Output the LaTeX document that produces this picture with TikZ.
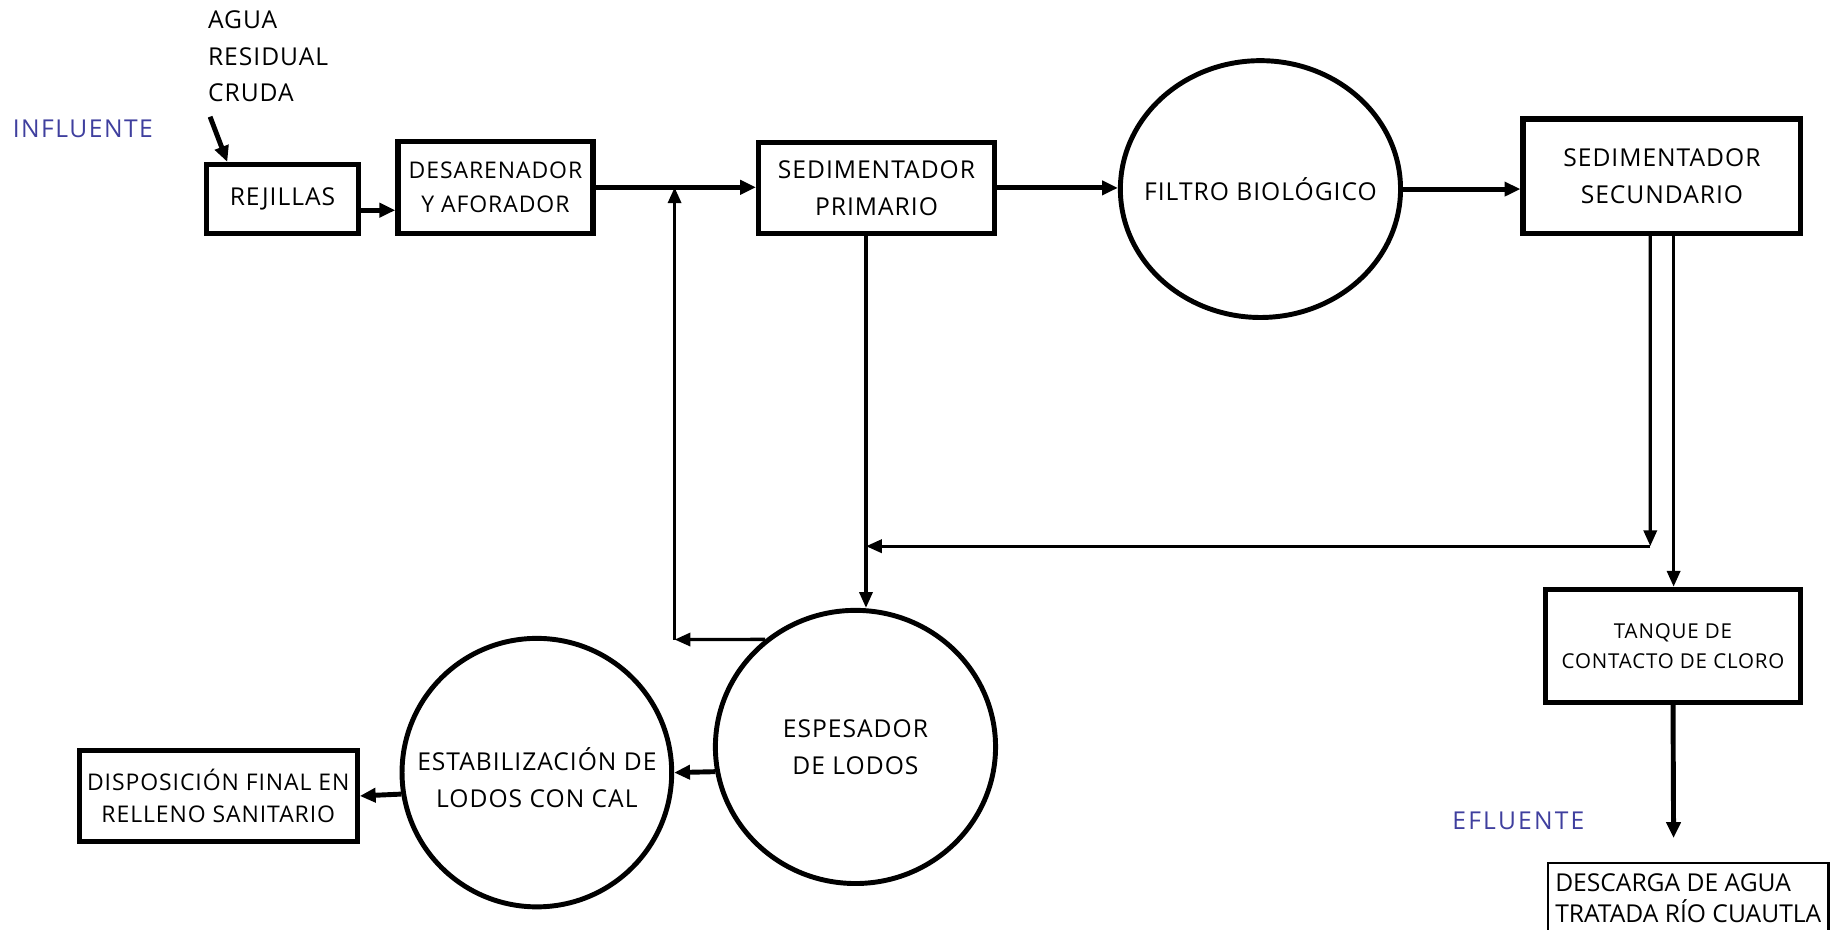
\documentclass[tikz,border=0pt]{standalone}
\usepackage{fontspec}
\setmainfont[LetterSpace=4]{Open Sans}
\usetikzlibrary{arrows.meta,shapes.geometric}
\definecolor{azul}{RGB}{63,63,158}

\begin{document}
\begin{tikzpicture}[x=0.025cm,y=-0.025cm]
\useasboundingbox (0,0) rectangle (1568,796);
\begin{scope}
	\tikzstyle{every node}=[align=center, inner sep=0pt, font=\fontsize{15}{22.7}\selectfont]
	\tikzstyle{caja}=[draw, line width=3.2pt]
	\tikzstyle{tanque}=[draw, ellipse, line width=3pt]
	\tikzstyle{flujo}=[line width=3pt, -{Triangle[length=0.34cm,width=0.3cm]}]
	\tikzstyle{lodo}=[line width=2pt, -{Triangle[length=0.34cm,width=0.28cm]}]

	\node[anchor=north west, align=left, font=\fontsize{15}{22.3}\selectfont] (agua) at (178,9) {AGUA\\RESIDUAL\\CRUDA};
	\node[text=azul, font=\fontsize{15}{18}\selectfont\addfontfeature{LetterSpace=6}] (inf) at (71,110) {INFLUENTE};
	\node[text=azul, font=\fontsize{15}{18}\selectfont\addfontfeature{LetterSpace=9}] (efl) at (1301,703) {EFLUENTE};

	\node[caja, minimum width=3.25cm, minimum height=1.475cm] (rej) at (242,170.5) {REJILLAS};
	\node[caja, minimum width=4.175cm, minimum height=1.975cm, font=\fontsize{14}{20.6}\selectfont] (des) at (424.5,160.5) {DESARENADOR\\Y AFORADOR};
	\node[caja, minimum width=5.05cm, minimum height=1.95cm] (sp) at (751,161) {SEDIMENTADOR\\PRIMARIO};
	\node[tanque, minimum width=6cm, minimum height=5.5cm, label=center:{FILTRO BIOLÓGICO}] (fb) at (1080,162) {};
	\node[caja, minimum width=5.95cm, minimum height=2.45cm] (ss) at (1424,151) {SEDIMENTADOR\\SECUNDARIO};
	\node[caja, minimum width=5.475cm, minimum height=2.425cm, font=\fontsize{12.5}{18.5}\selectfont] (tq) at (1433.5,553.5) {TANQUE DE\\CONTACTO DE CLORO};
	\node[tanque, minimum width=6cm, minimum height=5.85cm, label={[align=center]center:ESPESADOR\\DE LODOS}] (esp) at (733,640) {};
	\node[tanque, minimum width=5.775cm, minimum height=5.75cm, label={[align=center, yshift=-0.1cm]center:ESTABILIZACIÓN DE\\LODOS CON CAL}] (est) at (460,662) {};
	\node[caja, minimum width=5.95cm, minimum height=1.95cm, font=\fontsize{14}{20}\selectfont] (disp) at (187,682) {DISPOSICIÓN FINAL EN\\RELLENO SANITARIO};
	\node[draw, line width=1.5pt, anchor=north west, minimum width=6cm, minimum height=1.5cm, label={[anchor=west, align=left, xshift=0.17cm, font=\fontsize{15}{19}\selectfont\addfontfeature{LetterSpace=0}]west:DESCARGA DE AGUA\\TRATADA RÍO CUAUTLA}] (desc) at (1325.5,738.6) {};

	\coordinate (a0) at (180,100);
	\coordinate (sp0) at ([xshift=-0.225cm]sp.south);
	\coordinate (ret) at (1414,468);
	\coordinate (rx) at (578,548);
	\coordinate (dtip) at (1434,718);

	\draw [flujo] (a0) -- ([xshift=0.5cm]rej.north west);
	\draw [flujo] ([yshift=-0.24cm]rej.east) -- ([yshift=-0.24cm]rej.east -| des.west);
	\draw [flujo] (des.east) -- (des.east -| sp.west);
	\draw [flujo] (sp.east) -- (sp.east -| fb.west);
	\draw [flujo] (fb.east) -- (fb.east -| ss.west);

	\draw [lodo] ([xshift=-0.25cm]ss.south) -- (ret);
	\draw [lodo] ([xshift=0.25cm]ss.south) -- ([xshift=0.25cm]ss.south |- tq.north);
	\draw [lodo] (ret) -- (ret -| sp0);
	\draw [lodo] (sp0) -- (sp0 |- esp.north);
	\draw [lodo] (esp.130) -- (rx);
	\draw [lodo] (rx) -- (rx |- des.east);

	\draw [flujo] (esp.190) -- (est.east);
	\draw [flujo] (est.189) -- (disp.east);
	\draw [flujo] (tq.south) -- (dtip);
\end{scope}
\end{tikzpicture}
\end{document}
